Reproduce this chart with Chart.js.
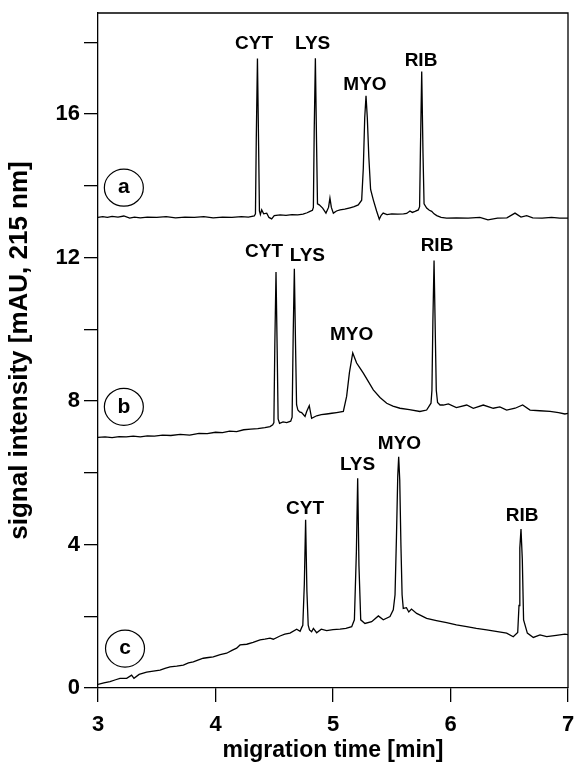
<!DOCTYPE html>
<html><head><meta charset="utf-8">
<script src="https://cdn.jsdelivr.net/npm/chart.js@4.4.1/dist/chart.umd.min.js"></script>
<style>html,body{margin:0;padding:0;background:#fff}</style>
</head><body>
<canvas id="c" width="574" height="768"></canvas>
<script>
// ---- data ----
const timeA = [3.00,3.04,3.08,3.12,3.17,3.22,3.27,3.31,3.36,3.42,3.50,3.58,3.66,3.74,3.82,3.90,3.98,4.06,4.14,4.22,4.28,4.33,4.340,4.347,4.357,4.367,4.374,4.382,4.393,4.410,4.436,4.455,4.478,4.50,4.55,4.60,4.65,4.70,4.745,4.78,4.804,4.825,4.833,4.840,4.850,4.860,4.868,4.883,4.912,4.940,4.962,4.974,4.986,5.003,5.030,5.060,5.100,5.145,5.180,5.215,5.244,5.258,5.270,5.281,5.292,5.305,5.320,5.343,5.371,5.394,5.410,5.427,5.46,5.50,5.55,5.60,5.627,5.655,5.675,5.698,5.726,5.737,5.744,5.755,5.766,5.775,5.797,5.820,5.840,5.860,5.883,5.92,5.967,6.05,6.15,6.25,6.319,6.40,6.48,6.549,6.60,6.648,6.70,6.78,6.86,6.93,7.00];
const signalA = [13.12,13.14,13.12,13.15,13.13,13.16,13.10,13.13,13.11,13.13,13.12,13.14,13.11,13.13,13.12,13.14,13.11,13.13,13.12,13.14,13.13,13.16,13.22,15.30,17.55,15.10,13.30,13.20,13.33,13.22,13.24,13.12,13.08,13.17,13.19,13.18,13.20,13.19,13.21,13.25,13.29,13.32,13.40,15.50,17.56,15.20,13.50,13.47,13.38,13.24,13.40,13.66,13.40,13.24,13.30,13.33,13.35,13.39,13.42,13.47,13.60,14.50,15.90,16.51,15.90,14.80,13.90,13.61,13.30,13.07,13.18,13.24,13.20,13.22,13.21,13.22,13.23,13.30,13.26,13.29,13.33,13.42,15.00,17.19,14.90,13.50,13.38,13.32,13.29,13.22,13.17,13.12,13.10,13.11,13.10,13.12,13.05,13.10,13.11,13.24,13.13,13.17,13.11,13.10,13.12,13.10,13.10];

const timeB = [3.00,3.06,3.12,3.18,3.24,3.30,3.36,3.42,3.48,3.55,3.62,3.70,3.78,3.86,3.93,4.00,4.06,4.12,4.18,4.24,4.30,4.36,4.42,4.464,4.487,4.497,4.505,4.515,4.525,4.533,4.545,4.575,4.606,4.640,4.652,4.661,4.671,4.681,4.690,4.701,4.716,4.733,4.762,4.776,4.798,4.818,4.861,4.90,4.946,4.99,5.031,5.088,5.116,5.140,5.168,5.201,5.230,5.258,5.300,5.343,5.400,5.457,5.510,5.570,5.650,5.740,5.797,5.834,5.842,5.850,5.860,5.870,5.879,5.890,5.911,5.939,5.982,6.05,6.138,6.194,6.279,6.364,6.42,6.478,6.55,6.614,6.677,6.76,6.847,6.92,6.974,7.00];
const signalB = [6.99,7.00,6.98,7.01,7.00,7.02,7.00,7.03,7.02,7.05,7.04,7.07,7.05,7.10,7.09,7.13,7.12,7.16,7.15,7.20,7.22,7.23,7.26,7.29,7.34,7.40,9.60,11.60,9.40,7.50,7.38,7.42,7.40,7.44,7.55,9.80,11.69,9.60,7.90,7.75,7.70,7.68,7.57,7.71,7.87,7.52,7.59,7.62,7.64,7.66,7.68,7.71,8.13,8.80,9.34,9.06,8.92,8.78,8.55,8.31,8.10,7.94,7.86,7.80,7.76,7.71,7.75,7.94,8.30,10.20,11.92,10.00,8.30,7.96,7.89,7.89,7.92,7.82,7.89,7.80,7.89,7.80,7.84,7.75,7.80,7.89,7.75,7.73,7.71,7.68,7.64,7.66];

const timeC = [3.00,3.05,3.102,3.15,3.187,3.244,3.286,3.306,3.35,3.414,3.47,3.528,3.57,3.613,3.67,3.726,3.77,3.811,3.85,3.896,3.94,3.981,4.04,4.095,4.14,4.180,4.209,4.266,4.32,4.379,4.42,4.464,4.492,4.549,4.59,4.634,4.691,4.720,4.734,4.743,4.756,4.767,4.778,4.789,4.800,4.818,4.833,4.861,4.90,4.946,5.00,5.060,5.11,5.159,5.182,5.199,5.210,5.221,5.236,5.272,5.329,5.386,5.428,5.485,5.513,5.528,5.540,5.551,5.559,5.568,5.578,5.588,5.598,5.625,5.645,5.668,5.712,5.797,5.88,5.967,6.05,6.138,6.22,6.308,6.40,6.478,6.534,6.572,6.583,6.590,6.600,6.611,6.622,6.654,6.705,6.762,6.819,6.90,6.974,7.00];
const signalC = [0.10,0.14,0.18,0.23,0.27,0.27,0.36,0.27,0.38,0.44,0.47,0.50,0.55,0.59,0.61,0.64,0.70,0.73,0.78,0.83,0.85,0.87,0.93,0.97,1.05,1.11,1.20,1.22,1.27,1.34,1.36,1.39,1.36,1.45,1.50,1.53,1.64,1.58,1.69,1.75,2.90,4.69,2.70,1.75,1.62,1.57,1.66,1.54,1.64,1.60,1.63,1.64,1.66,1.71,1.90,3.80,5.85,3.40,1.90,1.80,1.85,2.01,1.90,1.99,2.18,2.60,4.20,5.90,6.45,5.80,4.00,2.60,2.22,2.24,2.12,2.20,2.08,1.94,1.88,1.82,1.76,1.71,1.66,1.62,1.57,1.53,1.43,1.55,2.30,3.90,4.43,3.60,1.90,1.53,1.41,1.48,1.43,1.47,1.50,1.49];

// peak labels (anchor in data units: time, signal)
const peakNames = ['CYT','LYS','MYO','RIB'];
const labelTimeA = [4.328, 4.827, 5.272, 5.749];
const labelSignalA = [17.96, 17.96, 16.82, 17.50];
const labelTimeB = [4.413, 4.782, 5.159, 5.885];
const labelSignalB = [12.17, 12.05, 9.85, 12.33];
const labelTimeC = [4.762, 5.209, 5.566, 6.609];
const labelSignalC = [5.01, 6.22, 6.80, 4.80];

// trace tags (circled letters)
const traceNames = ['a','b','c'];
const traceTagTime = [3.22, 3.22, 3.23];
const traceTagSignal = [13.95, 7.84, 1.10];

// axes
const xMin = 3, xMax = 7, xStep = 1;
const yMin = 0, yMax = 18.82, yStep = 2, yLabelEvery = 4;
const xTitle = 'migration time [min]';
const yTitle = 'signal intensity [mAU, 215 nm]';

// ---- chart ----
const FONT = '"Liberation Sans", Arial, Helvetica, sans-serif';
const toPts = (ts, vs) => ts.map((t, i) => ({x: t, y: vs[i]}));
const labelSets = [[labelTimeA, labelSignalA], [labelTimeB, labelSignalB], [labelTimeC, labelSignalC]];

const annot = {
  id: 'annot',
  afterDatasetsDraw(chart) {
    const {ctx, chartArea: a, scales: {x, y}} = chart;
    ctx.save();
    ctx.strokeStyle = '#000';
    ctx.lineWidth = 1.3;
    ctx.beginPath();
    ctx.moveTo(a.left, a.top);
    ctx.lineTo(a.right, a.top);
    ctx.lineTo(a.right, a.bottom);
    ctx.stroke();
    ctx.fillStyle = '#000';
    ctx.textAlign = 'center';
    ctx.textBaseline = 'middle';
    ctx.font = 'bold 19px ' + FONT;
    labelSets.forEach(([ts, vs]) => ts.forEach((t, i) => {
      ctx.fillText(peakNames[i], x.getPixelForValue(t), y.getPixelForValue(vs[i]));
    }));
    traceNames.forEach((n, i) => {
      const px = x.getPixelForValue(traceTagTime[i]);
      const py = y.getPixelForValue(traceTagSignal[i]);
      ctx.beginPath();
      ctx.ellipse(px, py, 19.5, 18.5, 0, 0, Math.PI * 2);
      ctx.lineWidth = 1.2;
      ctx.stroke();
      ctx.font = 'bold 21px ' + FONT;
      ctx.fillText(n, px, py);
    });
    ctx.restore();
  }
};

const lineDs = (ts, vs) => ({
  data: toPts(ts, vs), borderColor: '#000', borderWidth: 1.3,
  pointRadius: 0, tension: 0, fill: false
});

new Chart(document.getElementById('c'), {
  type: 'line',
  data: { datasets: [lineDs(timeA, signalA), lineDs(timeB, signalB), lineDs(timeC, signalC)] },
  options: {
    responsive: false, animation: false,
    layout: { padding: { left: 0, right: 6, top: 13, bottom: 0 } },
    plugins: { legend: { display: false }, tooltip: { enabled: false } },
    scales: {
      x: {
        type: 'linear', min: xMin, max: xMax,
        ticks: { stepSize: xStep, autoSkip: false, maxRotation: 0, color: '#000', padding: 10,
                 font: { family: FONT, size: 22, weight: 'bold' }, callback: v => String(v) },
        grid: { drawOnChartArea: false, drawTicks: true, tickLength: 14, color: '#000', lineWidth: 1.3 },
        border: { display: true, color: '#000', width: 1.3 },
        title: { display: true, text: xTitle, color: '#000', font: { family: FONT, size: 23, weight: 'bold' }, padding: { top: 0, bottom: 4 } },
        afterFit: s => { s.height = 80; s.paddingLeft = 0; s.paddingRight = 0; }
      },
      y: {
        type: 'linear', min: yMin, max: yMax,
        afterBuildTicks: s => { s.ticks = s.ticks.filter(t => Math.abs(t.value / yStep - Math.round(t.value / yStep)) < 1e-6); },
        ticks: { stepSize: yStep, autoSkip: false, color: '#000', padding: 4,
                 font: { family: FONT, size: 22, weight: 'bold' },
                 callback: v => (Math.abs(v % yLabelEvery) < 1e-6 ? String(v) : '') },
        grid: { drawOnChartArea: false, drawTicks: true, tickLength: 14, color: '#000', lineWidth: 1.3 },
        border: { display: true, color: '#000', width: 1.3 },
        title: { display: true, text: yTitle, color: '#000', font: { family: FONT, size: 26, weight: 'bold' }, padding: { top: 4, bottom: 0 } },
        afterFit: s => { s.width = 98; s.paddingTop = 0; s.paddingBottom = 0; }
      }
    }
  },
  plugins: [annot]
});
</script>
</body></html>
